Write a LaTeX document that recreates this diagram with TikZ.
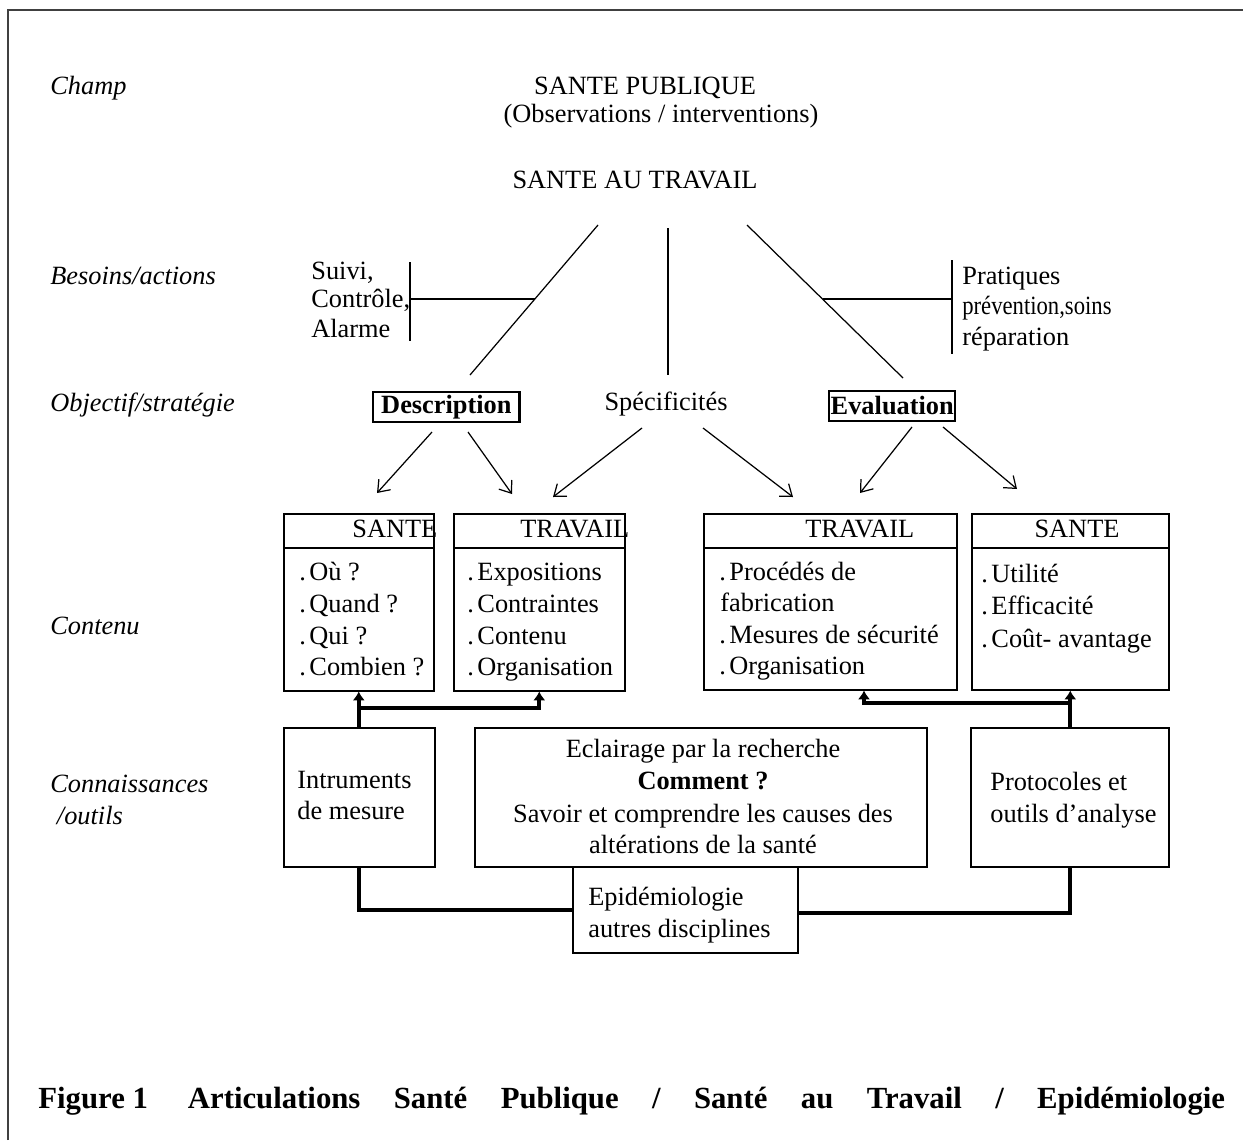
\documentclass[tikz,border=0pt]{standalone}
\usepackage{fontspec}
\setmainfont{Liberation Serif}
\usepackage{graphicx}
\usetikzlibrary{arrows.meta,calc}
\newcommand\idot{.\hspace{2pt}}
\begin{document}
\begin{tikzpicture}[x=0.02cm,y=-0.02cm,
  every node/.style={font=\fontsize{15}{18}\selectfont, inner sep=0},
  lbl/.style={anchor=base west},
  lblc/.style={anchor=base},
  lab/.style={anchor=base west, font=\fontsize{15}{18}\selectfont\itshape},
  thinln/.style={line width=0.7pt},
  box/.style={draw, line width=0.9pt, rectangle, anchor=north west},
  obox/.style={draw, line width=1.4pt, rectangle, anchor=west, minimum height=0.6cm},
  heavy/.style={line width=2.3pt},
  barb/.style={thinln, -{Straight Barb[length=6pt,width=9pt]}},
  tip/.style={-{Latex[length=5pt,width=7pt]}}
]
\useasboundingbox (0,0) rectangle (1243,1140);
% frame
\draw[line width=0.8pt, black!75] (8,1140) -- (8,10) -- (1243,10);

% left labels
\node[lab] (lchamp) at (50,94) {Champ};
\node[lab] (lbes) at (50,284) {Besoins/actions};
\node[lab] (lobj) at (50,411) {Objectif/stratégie};
\node[lab] (lcont) at (50,634) {Contenu};
\node[lab] (lconn1) at (50,792) {Connaissances};
\node[lab] (lconn2) at (50,824) {\ /outils};

% top
\node[lblc] (sp) at (645,94) {SANTE PUBLIQUE};
\node[lblc] (obs) at (661,122) {(Observations / interventions)};
\node[lblc] (sat) at (635,188) {SANTE AU TRAVAIL};

\coordinate (dl1) at (598,225); \coordinate (dl2) at (470,375);
\coordinate (dm1) at (668,228); \coordinate (dm2) at (668,375);
\coordinate (dr1) at (747,225); \coordinate (dr2) at (903,378);
\draw[thinln] (dl1) -- (dl2);
\draw[thinln] (dm1) -- (dm2);
\draw[thinln] (dr1) -- (dr2);

% brackets
\coordinate (bl1) at (410,262); \coordinate (bl2) at (410,341);
\coordinate (bl3) at (410,299); \coordinate (bl4) at (535,299);
\draw[thinln] (bl1) -- (bl2);
\draw[thinln] (bl3) -- (bl4);
\coordinate (br1) at (952,260); \coordinate (br2) at (952,354);
\coordinate (br3) at (952,299); \coordinate (br4) at (823,299);
\draw[thinln] (br1) -- (br2);
\draw[thinln] (br3) -- (br4);

\node[lbl] (suivi) at (311,279) {Suivi,};
\node[lbl] (ctrl) at (311,307) {Contrôle,};
\node[lbl] (alarm) at (311,337) {Alarme};
\node[lbl] (prat) at (962,284) {Pratiques};
\node[lbl] (prev) at (962,314) {\scalebox{0.86}[1]{prévention,soins}};
\node[lbl] (repa) at (962,345) {réparation};

% objectif row
\node[obox, inner xsep=0.16cm] (desc) at (372,407) {\bfseries Description\hspace{0.2cm}};
\node[lblc] (spec) at (666,410) {Spécificités};
\node[obox, inner xsep=0.03cm] (eval) at (828,406) {\bfseries Evaluation\hspace{0.44cm}};

% thin arrows
\coordinate (a1s) at (432,432); \coordinate (a1e) at (377,493);
\coordinate (a2s) at (468,432); \coordinate (a2e) at (512,494);
\coordinate (a3s) at (642,428); \coordinate (a3e) at (553,497);
\coordinate (a4s) at (703,428); \coordinate (a4e) at (793,497);
\coordinate (a5s) at (912,427); \coordinate (a5e) at (860,493);
\coordinate (a6s) at (943,427); \coordinate (a6e) at (1017,489);
\draw[barb] (a1s) -- (a1e);
\draw[barb] (a2s) -- (a2e);
\draw[barb] (a3s) -- (a3e);
\draw[barb] (a4s) -- (a4e);
\draw[barb] (a5s) -- (a5e);
\draw[barb] (a6s) -- (a6e);

% contenu boxes
\node[box, minimum width=3.0cm, minimum height=3.54cm] (b1) at (283,513) {};
\node[box, minimum width=3.42cm, minimum height=3.54cm] (b2) at (453,513) {};
\node[box, minimum width=5.06cm, minimum height=3.52cm] (b3) at (703,513) {};
\node[box, minimum width=3.94cm, minimum height=3.52cm] (b4) at (971,513) {};
\foreach \b in {b1,b2,b3,b4}
  \draw[line width=0.9pt] ($(\b.north west)+(0,35)$) -- ($(\b.north east)+(0,35)$);

\node[lbl] (h1) at (352,537) {SANTE};
\node[lbl] (h2) at (520,537) {TRAVAIL};
\node[lbl] (h3) at (805,537) {TRAVAIL};
\node[lblc] (h4) at (1077,537) {SANTE};

\node[lbl] (i11) at (299,580) {\idot Où ?};
\node[lbl] (i12) at (299,612) {\idot Quand ?};
\node[lbl] (i13) at (299,644) {\idot Qui ?};
\node[lbl] (i14) at (299,675) {\idot Combien ?};

\node[lbl] (i21) at (467,580) {\idot Expositions};
\node[lbl] (i22) at (467,612) {\idot Contraintes};
\node[lbl] (i23) at (467,644) {\idot Contenu};
\node[lbl] (i24) at (467,675) {\idot Organisation};

\node[lbl] (i31) at (719,580) {\idot Procédés de};
\node[lbl] (i32) at (720,611) {fabrication};
\node[lbl] (i33) at (719,643) {\idot Mesures de sécurité};
\node[lbl] (i34) at (719,674) {\idot Organisation};

\node[lbl] (i41) at (981,582) {\idot Utilité};
\node[lbl] (i42) at (981,614) {\idot Efficacité};
\node[lbl] (i43) at (981,647) {\idot Coût- avantage};

% bottom boxes
\node[box, minimum width=3.02cm, minimum height=2.78cm] (intr) at (283,727) {};
\node[box, minimum width=9.04cm, minimum height=2.78cm] (ecl) at (474,727) {};
\node[box, minimum width=3.96cm, minimum height=2.78cm] (prot) at (970,727) {};
\node[box, minimum width=4.5cm, minimum height=1.72cm] (epi) at (572,866) {};

\node[lbl] (t1) at (297,788) {Intruments};
\node[lbl] (t2) at (297,819) {de mesure};
\node[lblc] (e1) at (703,757) {Eclairage par la recherche};
\node[lblc] (e2) at (703,789) {\bfseries Comment ?};
\node[lblc] (e3) at (703,822) {Savoir et comprendre les causes des};
\node[lblc] (e4) at (703,853) {altérations de la santé};
\node[lbl] (p1) at (990,790) {Protocoles et};
\node[lbl] (p2) at (990,822) {outils d’analyse};
\node[lbl] (ep1) at (588,905) {Epidémiologie};
\node[lbl] (ep2) at (588,937) {autres disciplines};

% thick connectors
\coordinate (jl) at (358,708);
\coordinate (jr) at (1072,703);
\path (b3.south west) ++(161,0) coordinate (t3);
\draw[heavy, tip] (intr.north) |- (b2.south |- jl) -- (b2.south);
\draw[heavy, tip] (b1.south |- jl) -- (b1.south);
\draw[heavy, tip] (prot.north) |- (t3 |- jr) -- (t3);
\draw[heavy, tip] (b4.south |- jr) -- (b4.south);
\coordinate (jb1) at (358,910);
\coordinate (jb2) at (1072,913);
\draw[heavy] (intr.south) |- (epi.west |- jb1);
\draw[heavy] (prot.south) |- (epi.east |- jb2);

% caption
\node[anchor=base west, font=\fontsize{17.5}{20}\selectfont\bfseries] (cap) at (38,1108)
  {\hbox to 23.74cm{Figure 1\hspace{0.8cm}Articulations\hfill Santé\hfill Publique\hfill /\hfill Santé\hfill au\hfill Travail\hfill /\hfill Epidémiologie}};
\end{tikzpicture}
\end{document}
